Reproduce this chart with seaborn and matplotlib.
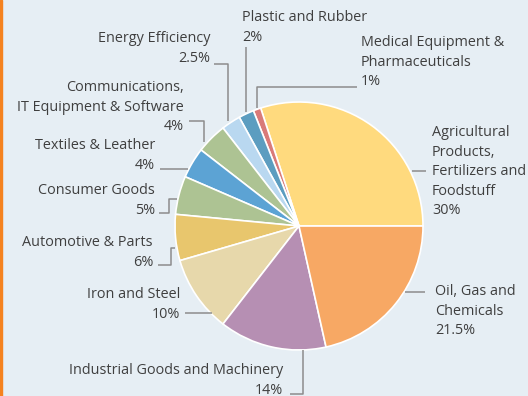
import matplotlib
matplotlib.use("Agg")
import matplotlib.pyplot as plt
import seaborn as sns
import numpy as np

sectors = ["Agricultural\nProducts,\nFertilizers and\nFoodstuff",
           "Medical Equipment &\nPharmaceuticals",
           "Plastic and Rubber",
           "Energy Efficiency",
           "Communications,\nIT Equipment & Software",
           "Textiles & Leather",
           "Consumer Goods",
           "Automotive & Parts",
           "Iron and Steel",
           "Industrial Goods and Machinery",
           "Oil, Gas and\nChemicals"]
shares = [30, 1, 2, 2.5, 4, 4, 5, 6, 10, 14, 21.5]
pct_labels = ["30%", "1%", "2%", "2.5%", "4%", "4%", "5%", "6%", "10%", "14%", "21.5%"]
colors = ["#FFDA7E", "#D97A79", "#5C9DC0", "#B9D8F0", "#ADC393", "#5CA3D4",
          "#ADC393", "#E8C66D", "#E7D8AB", "#B68FB3", "#F7A864"]

sns.set_theme(style="white")
plt.rcParams['font.family'] = ['Open Sans', 'DejaVu Sans']

W, H = 528, 396
fig = plt.figure(figsize=(5.28, 3.96), dpi=100)
fig.patch.set_facecolor("#E6EEF4")
ax = fig.add_axes([0, 0, 1, 1])
ax.set_facecolor("#E6EEF4")

cx, cy, R = 299, H - 226, 124
wedges, _ = ax.pie(shares, colors=colors, startangle=0, counterclock=True,
                   center=(cx, cy), radius=R,
                   wedgeprops=dict(edgecolor="white", linewidth=1.2))
ax.set_xlim(0, W)
ax.set_ylim(0, H)
ax.set_aspect("equal")
ax.axis("off")

# left orange border
ax.add_patch(plt.Rectangle((0, 0), 2, H, color="#F5821F", zorder=5, clip_on=False))

txt_color = "#3F3F3F"
line_color = "#8C8C8C"
fs = 10.4

# label layout: (x, y_top, ha), leader path points (pixel coords, top-left origin)
layout = [
    ((432, 125, "left"), [(412, 171), (426, 171)]),
    ((361, 35, "left"), [(257, 108), (257, 87), (357, 87)]),
    ((242, 10, "left"), [(246, 112), (246, 47)]),
    ((210, 31, "right"), [(228, 121), (228, 64), (214, 64)]),
    ((184, 80, "right"), [(204, 142), (204, 121), (189, 121)]),
    ((155, 138, "right"), [(188, 169), (160, 169)]),
    ((155, 183, "right"), [(177, 199), (169, 199), (169, 213), (159, 213)]),
    ((153, 235, "right"), [(175, 248), (171, 248), (171, 265), (158, 265)]),
    ((180, 287, "right"), [(212, 313), (185, 313)]),
    ((283, 363, "right"), [(303, 350), (303, 394), (290, 394)]),
    ((435, 284, "left"), [(425, 292), (405, 292)]),
]

for name, pct, ((tx, ty, ha), path) in zip(sectors, pct_labels, layout):
    ax.text(tx, H - ty, name + "\n" + pct, ha=ha, va="top", fontsize=fs,
            color=txt_color, linespacing=1.41, multialignment=ha)
    xs = [p[0] for p in path]
    ys = [H - p[1] for p in path]
    ax.plot(xs, ys, color=line_color, lw=1.1, solid_capstyle="butt")

fig.savefig("out.png", dpi=100, facecolor=fig.get_facecolor())
